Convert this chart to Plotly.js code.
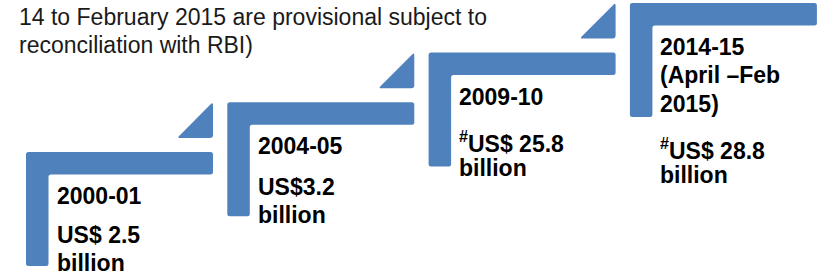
<!DOCTYPE html>
<html><head><meta charset="utf-8">
<script src="https://cdn.plot.ly/plotly-3.0.1.min.js"></script>
<style>html,body{margin:0;padding:0;background:#fff;}#chart{width:817px;height:275px;}</style>
</head><body><div id="chart"></div>
<script>
// ---- data ----
const periods = ['2000-01', '2004-05', '2009-10', '2014-15'];
const periodExtra = [[], [], [], ['(April \u2013Feb', '2015)']];
const amounts = ['US$ 2.5', 'US$3.2', '<sup>#</sup>US$ 25.8', '<sup>#</sup>US$ 28.8'];
const unitWord = 'billion';
const noteLines = ['14 to February 2015 are provisional subject to', 'reconciliation with RBI)'];

// ---- layout helpers ----
const W = 817, H = 275;
const BLUE = '#4F81BD';
const baseX = 26, stepDX = 201.3;
const baseTop = 152, stepDY = -49.7;
const barLen = 187, thick = 22.5, legLen = 114, tri = 36, triGap = 14;
const paraGap = [39, 41, 43, 43];
const boldFont = {family: 'Liberation Sans, Arial, sans-serif', size: 23, color: '#000', weight: 'bold'};
const noteFont = {family: 'Liberation Sans, Arial, sans-serif', size: 23, color: '#1a1a1a'};
const ASC = 21.5; // offset from box top to baseline for yanchor top

function roundedPath(pts, r) {
  let d = '';
  const n = pts.length;
  for (let k = 0; k < n; k++) {
    const p0 = pts[(k - 1 + n) % n], p1 = pts[k], p2 = pts[(k + 1) % n];
    const v1 = [p0[0] - p1[0], p0[1] - p1[1]], l1 = Math.hypot(v1[0], v1[1]);
    const v2 = [p2[0] - p1[0], p2[1] - p1[1]], l2 = Math.hypot(v2[0], v2[1]);
    const rr = Math.min(r, l1 / 2, l2 / 2);
    const a = [p1[0] + v1[0] / l1 * rr, p1[1] + v1[1] / l1 * rr];
    const b = [p1[0] + v2[0] / l2 * rr, p1[1] + v2[1] / l2 * rr];
    d += (k === 0 ? 'M' : 'L') + a[0] + ',' + a[1] + ' Q' + p1[0] + ',' + p1[1] + ' ' + b[0] + ',' + b[1] + ' ';
  }
  return d + 'Z';
}

const shapes = [];
const annotations = [];
function addLine(text, x, baseline, font) {
  annotations.push({
    text: text, x: x, y: baseline - ASC, xref: 'x', yref: 'y',
    xanchor: 'left', yanchor: 'top', showarrow: false, align: 'left',
    font: font, borderpad: 0
  });
}

periods.forEach((p, i) => {
  const vx = baseX + stepDX * i;
  const top = baseTop + stepDY * i;
  // L-shaped step
  shapes.push({
    type: 'path', xref: 'x', yref: 'y', layer: 'below',
    path: roundedPath([[vx, top], [vx + barLen, top], [vx + barLen, top + thick],
      [vx + thick, top + thick], [vx + thick, top + legLen], [vx, top + legLen]], 2.5),
    fillcolor: BLUE, line: {width: 0}
  });
  // triangle above the step end
  const rx = vx + barLen, by = top - triGap;
  shapes.push({
    type: 'path', xref: 'x', yref: 'y', layer: 'below',
    path: roundedPath([[rx - tri, by], [rx, by - tri], [rx, by]], 3),
    fillcolor: BLUE, line: {width: 0}
  });
  // text
  const tx = vx + 29.5;
  let b = top + thick + 29;
  const titleLines = [p].concat(periodExtra[i]);
  titleLines.forEach((t, k) => { addLine(t, tx, b + 28.5 * k, boldFont); });
  b = b + 28.5 * (titleLines.length - 1) + paraGap[i];
  addLine(amounts[i], tx, b, boldFont);
  addLine(unitWord, tx, b + 28, boldFont);
});

noteLines.forEach((t, k) => addLine(t, 18, 24 + 28 * k, noteFont));

const layout = {
  width: W, height: H,
  margin: {l: 0, r: 0, t: 0, b: 0},
  paper_bgcolor: '#fff', plot_bgcolor: '#fff',
  xaxis: {range: [0, W], visible: false, fixedrange: true},
  yaxis: {range: [H, 0], visible: false, fixedrange: true},
  shapes: shapes, annotations: annotations, showlegend: false
};
Plotly.newPlot('chart', [{x: [], y: [], type: 'scatter', hoverinfo: 'skip'}], layout, {staticPlot: true, displayModeBar: false});
</script></body></html>
